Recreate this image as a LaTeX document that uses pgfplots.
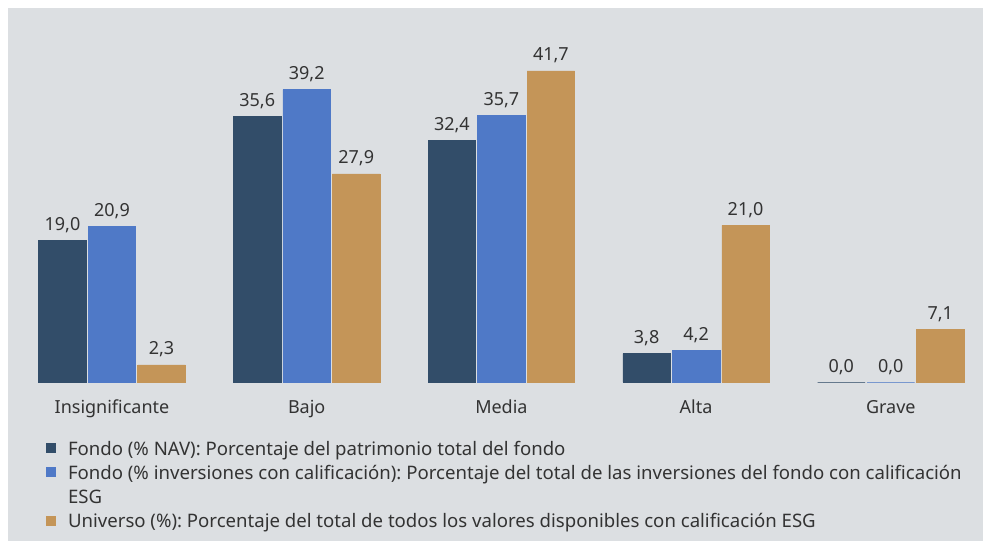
\documentclass[border=0pt]{standalone}
\usepackage{fontspec}
\setmainfont{Noto Sans}
\usepackage{pgfplots}
\pgfplotsset{compat=1.18}
\definecolor{bgc}{HTML}{DCDFE2}
\definecolor{c1}{HTML}{324D69}
\definecolor{c2}{HTML}{4F79C7}
\definecolor{c3}{HTML}{C49558}
\definecolor{txt}{HTML}{333333}
\frenchspacing
\begin{document}
\begin{tikzpicture}[x=1pt,y=1pt]
\fill[white] (0,0) rectangle (985,541);
\useasboundingbox (0,0) rectangle (985,541);
\fill[bgc] (8,0) rectangle (983,533);
\begin{axis}[
  at={(14.65pt,159pt)}, anchor=south west,
  scale only axis, width=973.5pt, height=373pt,
  xmin=-0.5, xmax=4.5, ymin=0, ymax=50,
  axis line style={draw=none},
  major tick length=0pt,
  ytick=\empty,
  xtick={0,1,2,3,4},
  xticklabels={Insignificante,Bajo,Media,Alta,Grave},
  xticklabel style={anchor=base, yshift=-31pt, font=\fontsize{18}{21}\selectfont, text=txt},
  ybar=2pt, bar width=47.5pt,
  nodes near coords={\pgfmathprintnumber[fixed,fixed zerofill,precision=1,use comma,assume math mode=true]{\pgfplotspointmeta}},
  every node near coord/.append style={anchor=base, yshift=10pt, font=\fontsize{18}{21}\selectfont, text=txt},
  legend image code/.code={\fill[#1,draw=none] (0pt,2pt) rectangle (10pt,12pt);},
  legend style={at={(axis description cs:0,0)}, anchor=north west, xshift=31.35pt, yshift=-55.2pt,
    draw=none, fill=none, inner sep=0pt, outer sep=0pt, row sep=0pt, column sep=12pt,
    cells={anchor=base west},
    nodes={inner sep=0pt, text height=17.8pt, text depth=6.5pt, font=\fontsize{18.6}{21}\selectfont\frenchspacing, text=txt}},
]
\addplot[fill=c1, draw=c1, line width=0.6pt] coordinates {(0,19.0) (1,35.6) (2,32.4) (3,3.8) (4,0.0)};
\addlegendentry{Fondo (\% NAV): Porcentaje del patrimonio total del fondo}
\addplot[fill=c2, draw=c2, line width=0.6pt] coordinates {(0,20.9) (1,39.2) (2,35.7) (3,4.2) (4,0.0)};
\addlegendentry{Fondo (\% inversiones con calificación): Porcentaje del total de las inversiones del fondo con calificación}
\addlegendimage{empty legend}
\addlegendentry{ESG}
\addplot[fill=c3, draw=c3, line width=0.6pt] coordinates {(0,2.3) (1,27.9) (2,41.7) (3,21.0) (4,7.1)};
\addlegendentry{Universo (\%): Porcentaje del total de todos los valores disponibles con calificación ESG}
\end{axis}
\end{tikzpicture}
\end{document}
